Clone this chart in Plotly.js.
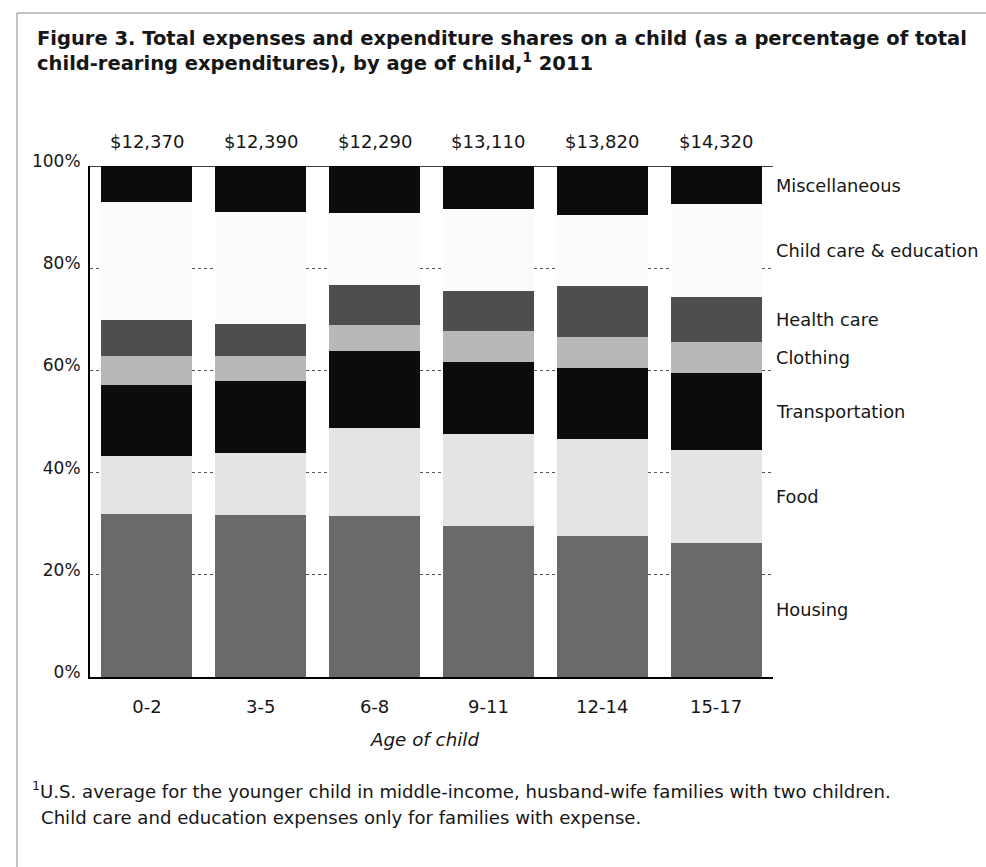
<!DOCTYPE html>
<html>
<head>
<meta charset="utf-8">
<script src="https://cdn.plot.ly/plotly-3.0.1.min.js"></script>
<style>
  html, body { margin: 0; padding: 0; background: #ffffff; }
  #chart { width: 986px; height: 867px; }
</style>
</head>
<body>
<div id="chart"></div>
<script>
// ---- Data ----
const categories = ['0-2', '3-5', '6-8', '9-11', '12-14', '15-17'];
const totals = [12370, 12390, 12290, 13110, 13820, 14320];
const housing = [31.9, 31.8, 31.6, 29.5, 27.5, 26.3];
const food = [11.4, 12.1, 17.2, 18.1, 19.1, 18.2];
const transportation = [13.8, 14.1, 15.0, 14.0, 13.9, 15.0];
const clothing = [5.8, 4.9, 5.0, 6.2, 6.0, 6.0];
const healthCare = [7.0, 6.1, 8.0, 7.7, 10.0, 8.9];
const childCare = [23.1, 22.0, 14.0, 16.1, 14.0, 18.1];
const miscellaneous = [7.0, 9.0, 9.2, 8.4, 9.5, 7.5];
const seriesNames = ['Housing', 'Food', 'Transportation', 'Clothing', 'Health care', 'Child care & education', 'Miscellaneous'];
const yTickVals = [0, 20, 40, 60, 80, 100];
const yTickText = ['0%', '20%', '40%', '60%', '80%', '100%'];

// ---- Styling ----
const seriesValues = [housing, food, transportation, clothing, healthCare, childCare, miscellaneous];
const seriesColors = ['#6a6a6a', '#e4e4e4', '#0c0c0c', '#b8b8b8', '#4e4e4e', '#fbfbfb', '#0c0c0c'];
const FONT = 'DejaVu Sans, Liberation Sans, Arial, sans-serif';
const TXT = '#161616';

// plot area in pixels
const L = 90, R = 773, T = 166, B = 677;
const W = R - L, H = B - T;
const px = x => (x - L) / W;
const py = y => (B - y) / H;

const traces = seriesValues.map((vals, i) => ({
  type: 'bar',
  name: seriesNames[i],
  x: categories,
  y: vals,
  marker: { color: seriesColors[i], line: { width: 0 } },
  hoverinfo: 'x+y+name'
}));

const annotations = [];
// totals above bars
categories.forEach((c, i) => {
  annotations.push({
    x: c, xref: 'x', y: 1, yref: 'paper', yanchor: 'bottom', yshift: 12,
    text: '$' + totals[i].toLocaleString('en-US'),
    showarrow: false, font: { family: FONT, size: 18, color: TXT }
  });
});
// right-hand category labels at midpoints of the last bar's segments
const last = categories.length - 1;
let cum = 0;
seriesValues.forEach((vals, i) => {
  const mid = cum + vals[last] / 2;
  cum += vals[last];
  annotations.push({
    x: 1, xref: 'paper', xanchor: 'left', xshift: 1,
    y: mid, yref: 'y', yanchor: 'middle',
    text: seriesNames[i], showarrow: false,
    font: { family: FONT, size: 17.8, color: TXT }
  });
});
// x axis title
annotations.push({
  x: px(424), xref: 'paper', y: py(739), yref: 'paper', yanchor: 'middle',
  text: '<i>Age of child</i>', showarrow: false,
  font: { family: FONT, size: 18.3, color: TXT }
});
// footnote
annotations.push({
  x: px(30), xref: 'paper', xanchor: 'left', y: py(790), yref: 'paper', yanchor: 'middle',
  text: '<sup>1</sup>U.S. average for the younger child in middle-income, husband-wife families with two children.',
  showarrow: false, align: 'left', font: { family: FONT, size: 18.1, color: TXT }
});
annotations.push({
  x: px(39), xref: 'paper', xanchor: 'left', y: py(817), yref: 'paper', yanchor: 'middle',
  text: 'Child care and education expenses only for families with expense.',
  showarrow: false, align: 'left', font: { family: FONT, size: 18.1, color: TXT }
});

const layout = {
  width: 986, height: 867,
  margin: { l: L, r: 986 - R, t: T, b: 867 - B, pad: 0 },
  paper_bgcolor: '#ffffff', plot_bgcolor: '#ffffff',
  barmode: 'stack', bargap: 0.2,
  showlegend: false,
  title: {
    text: 'Figure 3. Total expenses and expenditure shares on a child (as a percentage of total<br>child-rearing expenditures), by age of child,<sup>1</sup> 2011',
    x: 37 / 986, xref: 'container', xanchor: 'left',
    y: 1 - 45 / 867, yref: 'container', yanchor: 'top',
    font: { family: FONT, size: 19.5, color: TXT, weight: 'bold' }
  },
  xaxis: {
    type: 'category', range: [-0.5, 5.5],
    showline: true, linecolor: '#000', linewidth: 2,
    ticks: '', showgrid: false, zeroline: false,
    tickfont: { family: FONT, size: 18, color: TXT },
    ticklabelstandoff: 12, fixedrange: true
  },
  yaxis: {
    range: [0, 100], tickvals: yTickVals, ticktext: yTickText,
    showline: true, linecolor: '#000', linewidth: 2,
    ticks: '', zeroline: false,
    showgrid: true, gridcolor: '#555', griddash: 'dot', gridwidth: 1,
    tickfont: { family: FONT, size: 17, color: TXT },
    ticklabelstandoff: 4, ticklabelshift: -5, fixedrange: true
  },
  annotations: annotations,
  shapes: [
    { type: 'line', xref: 'paper', yref: 'y', x0: 0, x1: 1, y0: 100, y1: 100,
      line: { color: '#000', width: 1.5 } },
    { type: 'rect', xref: 'paper', yref: 'paper', x0: px(17), x1: px(1000), y0: py(13), y1: py(900),
      line: { color: '#888', width: 1 }, fillcolor: 'rgba(0,0,0,0)', layer: 'below' }
  ]
};

Plotly.newPlot('chart', traces, layout, { displayModeBar: false, staticPlot: true });
</script>
</body>
</html>
